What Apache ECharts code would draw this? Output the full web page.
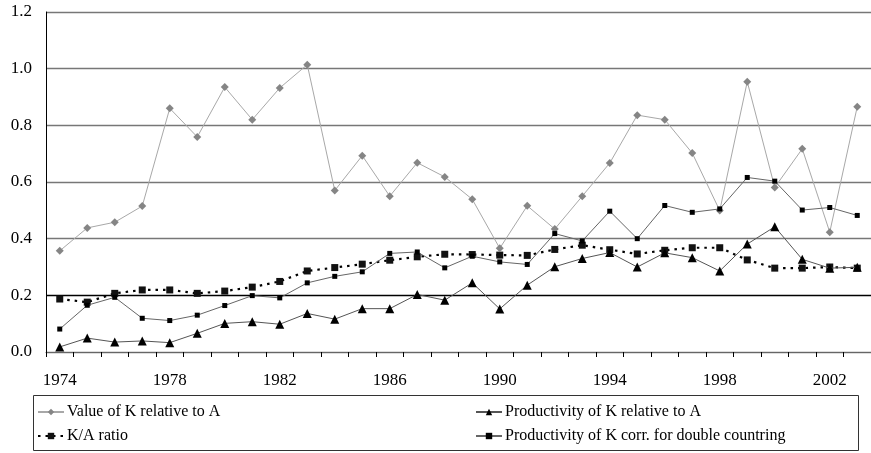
<!DOCTYPE html>
<html>
<head>
<meta charset="utf-8">
<script src="https://cdn.jsdelivr.net/npm/echarts@6/dist/echarts.min.js"></script>
<style>
  html, body { margin: 0; padding: 0; background: #fff; }
  #chart { width: 871px; height: 453px; }
</style>
</head>
<body>
<div id="chart"></div>
<script>
const years = ['1974','1975','1976','1977','1978','1979','1980','1981','1982','1983',
  '1984','1985','1986','1987','1988','1989','1990','1991','1992','1993',
  '1994','1995','1996','1997','1998','1999','2000','2001','2002','2003'];

const valueKA = [0.357,0.438,0.458,0.515,0.860,0.759,0.935,0.820,0.932,1.014,
  0.570,0.693,0.550,0.668,0.618,0.539,0.366,0.516,0.434,0.550,
  0.667,0.836,0.820,0.702,0.499,0.954,0.581,0.717,0.423,0.866];

const prodKA = [0.018,0.049,0.035,0.039,0.033,0.066,0.101,0.107,0.098,0.136,
  0.116,0.153,0.153,0.203,0.183,0.244,0.152,0.236,0.301,0.330,
  0.351,0.300,0.350,0.333,0.286,0.381,0.442,0.327,0.296,0.299];

const kaRatio = [0.187,0.176,0.207,0.219,0.219,0.207,0.215,0.229,0.249,0.286,
  0.298,0.310,0.324,0.336,0.345,0.344,0.342,0.341,0.362,0.377,
  0.361,0.346,0.359,0.368,0.368,0.325,0.296,0.296,0.300,0.296];

const prodCorr = [0.081,0.165,0.193,0.119,0.111,0.130,0.164,0.199,0.191,0.244,
  0.267,0.283,0.348,0.353,0.297,0.338,0.318,0.309,0.418,0.392,
  0.497,0.400,0.517,0.493,0.505,0.616,0.603,0.501,0.510,0.482];

const names = ['Value of K relative to A', 'Productivity of K relative to A',
  'K/A ratio', 'Productivity of K corr. for double countring'];

const font = "'Liberation Serif', 'Times New Roman', serif";
const chart = echarts.init(document.getElementById('chart'), null, { renderer: 'canvas' });

const legendCommon = {
  orient: 'vertical',
  top: 404,
  padding: 0,
  itemGap: 8,
  itemWidth: 26,
  itemHeight: 8,
  textStyle: { fontFamily: font, fontSize: 16, color: '#000', padding: [0, 0, 0, -2] }
};

chart.setOption({
  animation: false,
  backgroundColor: '#fff',
  grid: { left: 46, right: 0, top: 12, bottom: 101, containLabel: false },
  legend: [
    Object.assign({ left: 37, data: [names[0], names[2]] }, legendCommon),
    Object.assign({ left: 475, data: [names[1], names[3]] }, legendCommon)
  ],
  graphic: [{
    type: 'rect',
    shape: { x: 33.5, y: 395.5, width: 825, height: 55 },
    style: { fill: 'none', stroke: '#333', lineWidth: 1 },
    silent: true
  }],
  xAxis: {
    type: 'category',
    data: years,
    boundaryGap: true,
    axisLine: { lineStyle: { color: '#666', width: 1 } },
    axisTick: { show: true, interval: 0, length: 5, lineStyle: { color: '#000' } },
    axisLabel: { interval: 3, margin: 20, fontFamily: font, fontSize: 17, color: '#000' },
    splitLine: { show: false }
  },
  yAxis: {
    type: 'value',
    min: 0, max: 1.2, interval: 0.2,
    axisLine: { show: true, lineStyle: { color: '#000', width: 1 } },
    axisTick: { show: false },
    axisLabel: { margin: 14, fontFamily: font, fontSize: 17, color: '#000',
      formatter: v => v.toFixed(1) },
    splitLine: { show: true, lineStyle: { color: ['#777', '#000', '#777', '#777', '#777', '#777', '#777'], width: 1.3 } }
  },
  series: [
    {
      name: names[2], type: 'line', data: kaRatio, z: 2,
      symbol: 'rect', symbolSize: 7,
      lineStyle: { color: '#000', width: 2.2, type: [2.5, 5] },
      itemStyle: { color: '#111' }
    },
    {
      name: names[0], type: 'line', data: valueKA, z: 3,
      symbol: 'diamond', symbolSize: 8,
      lineStyle: { color: '#a8a8a8', width: 1 },
      itemStyle: { color: '#858585' }
    },
    {
      name: names[1], type: 'line', data: prodKA, z: 4,
      symbol: 'triangle', symbolSize: 9,
      lineStyle: { color: '#555', width: 1 },
      itemStyle: { color: '#000' }
    },
    {
      name: names[3], type: 'line', data: prodCorr, z: 5,
      symbol: 'rect', symbolSize: 5,
      lineStyle: { color: '#666', width: 1 },
      itemStyle: { color: '#000' }
    }
  ]
});
</script>
</body>
</html>
